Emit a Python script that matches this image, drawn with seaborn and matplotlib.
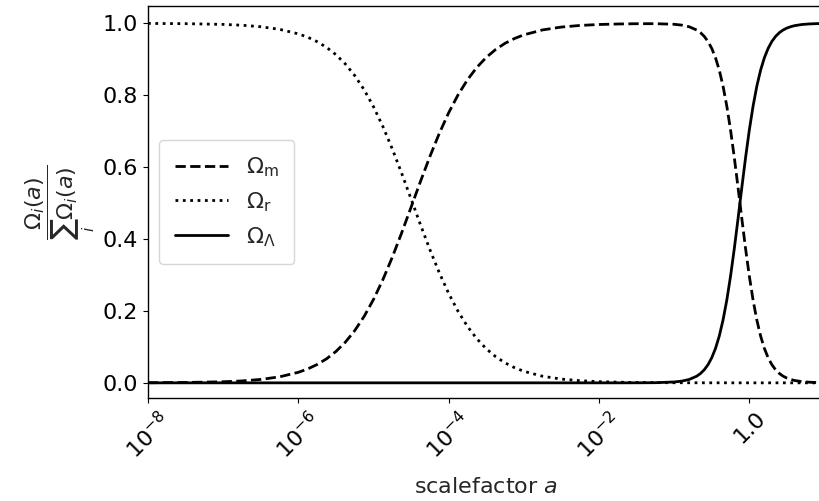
import numpy as np
import matplotlib
matplotlib.use("Agg")
import matplotlib.pyplot as plt
from matplotlib.ticker import NullLocator
import seaborn as sns

# log10 of the scale factor at which the density fractions are sampled
log10_a = [-8, -7.5, -7, -6.75, -6.5, -6.25,
           -6, -5.875, -5.75, -5.625, -5.5, -5.375, -5.25, -5.125,
           -5, -4.875, -4.75, -4.625, -4.5, -4.375, -4.25, -4.125,
           -4, -3.875, -3.75, -3.625, -3.5, -3.375, -3.25, -3.125, -3,
           -2.75, -2.5, -2.25, -2, -1.75, -1.5, -1.25,
           -1, -0.9, -0.8, -0.7, -0.65, -0.6, -0.55, -0.5, -0.45, -0.4,
           -0.35, -0.3, -0.25, -0.2, -0.15, -0.1, -0.05, 0.0, 0.05, 0.1,
           0.15, 0.2, 0.25, 0.3, 0.35, 0.4, 0.45, 0.5, 0.55, 0.6,
           0.7, 0.8, 0.9, 1.0]

# matter fraction
omega_m = [0.0003, 0.0010, 0.0030, 0.0053, 0.0095, 0.0167,
           0.0293, 0.0387, 0.0510, 0.0668, 0.0872, 0.1130, 0.1452, 0.1847,
           0.2320, 0.2871, 0.3494, 0.4173, 0.4885, 0.5602, 0.6294, 0.6937,
           0.7512, 0.8011, 0.8430, 0.8775, 0.9052, 0.9272, 0.9444, 0.9577, 0.9679,
           0.9817, 0.9896, 0.9941, 0.9967, 0.9981, 0.9989, 0.9990,
           0.9973, 0.9950, 0.9904, 0.9813, 0.9740, 0.9637, 0.9495, 0.9301, 0.9041, 0.8699,
           0.8254, 0.7700, 0.7034, 0.6267, 0.5431, 0.4569, 0.3733, 0.2966, 0.2299, 0.1745,
           0.1302, 0.0958, 0.0698, 0.0504, 0.0362, 0.0259, 0.0185, 0.0132, 0.0094, 0.0066,
           0.0033, 0.0017, 0.0008, 0.0004]

# radiation fraction
omega_r = [0.9997, 0.9990, 0.9970, 0.9947, 0.9905, 0.9833,
           0.9707, 0.9613, 0.9490, 0.9332, 0.9128, 0.8870, 0.8548, 0.8153,
           0.7680, 0.7129, 0.6506, 0.5827, 0.5115, 0.4398, 0.3706, 0.3063,
           0.2488, 0.1989, 0.1570, 0.1225, 0.0948, 0.0728, 0.0556, 0.0423, 0.0321,
           0.0183, 0.0104, 0.0059, 0.0033, 0.0019, 0.0010, 0.0006,
           0.0003, 0.0003, 0.0002, 0.0002, 0.0001, 0.0001, 0.0001, 0.0001, 0.0001, 0.0001,
           0.0001, 0.0001, 0.0, 0.0, 0.0, 0.0, 0.0, 0.0, 0.0, 0.0,
           0.0, 0.0, 0.0, 0.0, 0.0, 0.0, 0.0, 0.0, 0.0, 0.0,
           0.0, 0.0, 0.0, 0.0]

# dark-energy fraction
omega_L = [0.0, 0.0, 0.0, 0.0, 0.0, 0.0,
           0.0, 0.0, 0.0, 0.0, 0.0, 0.0, 0.0, 0.0,
           0.0, 0.0, 0.0, 0.0, 0.0, 0.0, 0.0, 0.0,
           0.0, 0.0, 0.0, 0.0, 0.0, 0.0, 0.0, 0.0, 0.0,
           0.0, 0.0, 0.0, 0.0, 0.0, 0.0001, 0.0004,
           0.0024, 0.0047, 0.0094, 0.0185, 0.0259, 0.0362, 0.0504, 0.0698, 0.0958, 0.1301,
           0.1745, 0.2299, 0.2966, 0.3733, 0.4569, 0.5431, 0.6267, 0.7034, 0.7701, 0.8255,
           0.8698, 0.9042, 0.9302, 0.9496, 0.9638, 0.9741, 0.9815, 0.9868, 0.9906, 0.9934,
           0.9967, 0.9983, 0.9992, 0.9996]

tick_values = [1e-8, 1e-6, 1e-4, 1e-2, 1.0]
tick_labels = [r"$10^{-8}$", r"$10^{-6}$", r"$10^{-4}$", r"$10^{-2}$", "1.0"]

sns.set_style("ticks")
plt.rcParams.update({
    "font.family": ["DejaVu Sans"],
    "font.size": 16,
    "axes.edgecolor": "black",
    "axes.linewidth": 1.0,
    "xtick.color": "black",
    "ytick.color": "black",
    "xtick.labelsize": 16,
    "ytick.labelsize": 16,
    "axes.labelsize": 16,
    "legend.fontsize": 16,
})

fig = plt.figure(figsize=(8.2, 5.01), dpi=100)
ax = fig.add_axes([148 / 820, 102.7 / 501, 676.5 / 820, 392.6 / 501])

a = 10.0 ** np.asarray(log10_a)

sns.lineplot(x=a, y=omega_m, ax=ax, color="black", lw=2, linestyle="--",
             label=r"$\Omega_\mathrm{m}$", sort=False, estimator=None)
sns.lineplot(x=a, y=omega_r, ax=ax, color="black", lw=2, linestyle=":",
             label=r"$\Omega_\mathrm{r}$", sort=False, estimator=None)
sns.lineplot(x=a, y=omega_L, ax=ax, color="black", lw=2, linestyle="-",
             label=r"$\Omega_\Lambda$", sort=False, estimator=None)

ax.set_xscale("log")
ax.set_xlim(1e-8, 10)
ax.set_ylim(-0.043, 1.049)
ax.set_xticks(tick_values)
ax.set_xticklabels(tick_labels, rotation=45)
ax.xaxis.set_minor_locator(NullLocator())

ax.set_xlabel(r"scalefactor $a$", labelpad=10)
ax.set_ylabel(r"$\dfrac{\Omega_i(a)}{\sum_i\Omega_i(a)}$")

ax.legend(loc="center left", handlelength=2.4, borderpad=0.7)

fig.savefig("out.png", dpi=100)
